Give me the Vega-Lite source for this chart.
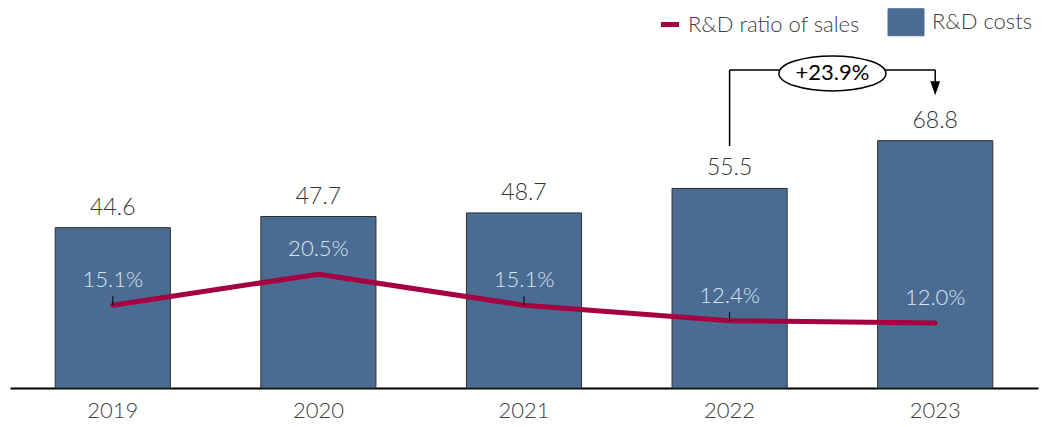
{
  "$schema": "https://vega.github.io/schema/vega-lite/v6.json",
  "width": 1028,
  "height": 380,
  "padding": {"left": 10, "top": 8, "right": 5, "bottom": 5},
  "background": "white",
  "config": {"view": {"stroke": null}, "font": "Lato"},
  "data": {"values": [
    {"year": "2019", "costs": 44.6, "ratio": 0.151},
    {"year": "2020", "costs": 47.7, "ratio": 0.205},
    {"year": "2021", "costs": 48.7, "ratio": 0.151},
    {"year": "2022", "costs": 55.5, "ratio": 0.124},
    {"year": "2023", "costs": 68.8, "ratio": 0.120}
  ]},
  "layer": [
    {
      "layer": [
        {
          "mark": {"type": "bar", "stroke": "#2e2e2e", "strokeWidth": 1},
          "encoding": {
            "x": {"field": "year", "type": "nominal", "scale": {"paddingInner": 0.44, "paddingOuter": 0.22},
              "axis": {"title": null, "ticks": false, "tickSize": 0, "domainColor": "#000000", "domainWidth": 2, "labelFont": "Lato", "labelFontSize": 22, "labelFontWeight": 300, "labelColor": "#404040", "labelAngle": 0, "labelBaseline": "middle", "labelPadding": 22, "grid": false}},
            "y": {"field": "costs", "type": "quantitative", "scale": {"domain": [0, 105.7], "nice": false}, "axis": null},
            "color": {"datum": "R&D costs", "type": "nominal",
              "scale": {"domain": ["R&D ratio of sales", "R&D costs"], "range": ["#a50040", "#4a6c93"]},
              "legend": {"title": null, "orient": "none", "legendX": 649, "legendY": 3, "direction": "horizontal",
                "labelFont": "Lato", "labelFontSize": 22, "labelFontWeight": 300, "labelColor": "#404040", "labelLimit": 400, "columnPadding": 26, "labelOffset": 7, "symbolSize": 729,
                "encode": {
                  "symbols": {"update": {
                    "shape": {"signal": "datum.value === 'R&D costs' ? 'M -1.333 -1 H 1.333 V 1 H -1.333 Z' : 'stroke'"},
                    "size": {"signal": "datum.value === 'R&D costs' ? 729 : 324"},
                    "fill": {"signal": "datum.value === 'R&D costs' ? '#4a6c93' : 'transparent'"},
                    "stroke": {"signal": "datum.value === 'R&D costs' ? '#2e2e2e' : '#a50040'"},
                    "strokeWidth": {"signal": "datum.value === 'R&D costs' ? 1 : 5"},
                    "opacity": {"value": 1}
                  }},
                  "labels": {"update": {"dx": {"signal": "datum.value === 'R&D costs' ? 8 : 0"}}}
                }}}
          }
        },
        {
          "mark": {"type": "text", "baseline": "middle", "dy": -20, "fontSize": 23, "fontWeight": 300, "color": "#333333", "font": "Lato"},
          "encoding": {
            "x": {"field": "year", "type": "nominal"},
            "y": {"field": "costs", "type": "quantitative"},
            "text": {"field": "costs", "type": "quantitative", "format": ".1f"}
          }
        },
        {
          "transform": [{"filter": {"field": "year", "equal": "2022"}}],
          "mark": {"type": "rule", "color": "#000000", "strokeWidth": 1.5},
          "encoding": {
            "x": {"datum": "2022", "type": "nominal"},
            "y": {"datum": 67.3, "type": "quantitative"},
            "y2": {"datum": 88.45}
          }
        },
        {
          "transform": [{"filter": {"field": "year", "equal": "2022"}}],
          "mark": {"type": "rule", "color": "#000000", "strokeWidth": 1.5},
          "encoding": {
            "x": {"datum": "2022", "type": "nominal"},
            "x2": {"datum": "2023"},
            "y": {"datum": 88.45, "type": "quantitative"}
          }
        },
        {
          "transform": [{"filter": {"field": "year", "equal": "2022"}}],
          "mark": {"type": "rule", "color": "#000000", "strokeWidth": 1.5},
          "encoding": {
            "x": {"datum": "2023", "type": "nominal"},
            "y": {"datum": 88.45, "type": "quantitative"},
            "y2": {"datum": 84.6}
          }
        },
        {
          "transform": [{"filter": {"field": "year", "equal": "2022"}}],
          "mark": {"type": "point", "shape": "M -0.7 -1 L 0.7 -1 L 0 1 Z", "filled": true, "color": "#000000", "size": 196, "opacity": 1},
          "encoding": {
            "x": {"datum": "2023", "type": "nominal"},
            "y": {"datum": 83.4, "type": "quantitative"}
          }
        },
        {
          "transform": [{"filter": {"field": "year", "equal": "2022"}}],
          "mark": {"type": "point", "shape": "M -1 0 A 1 0.327 0 1 0 1 0 A 1 0.327 0 1 0 -1 0 Z", "filled": true, "fill": "#ffffff", "stroke": "#000000", "strokeWidth": 1.5, "size": 11449, "opacity": 1},
          "encoding": {
            "x": {"datum": "2022", "type": "nominal", "bandPosition": 1.393},
            "y": {"datum": 87.5, "type": "quantitative"}
          }
        },
        {
          "transform": [{"filter": {"field": "year", "equal": "2022"}}],
          "mark": {"type": "text", "baseline": "middle", "align": "center", "fontSize": 22, "color": "#000000", "font": "Lato", "text": "+23.9%"},
          "encoding": {
            "x": {"datum": "2022", "type": "nominal", "bandPosition": 1.393},
            "y": {"datum": 87.5, "type": "quantitative"}
          }
        }
      ]
    },
    {
      "layer": [
        {
          "mark": {"type": "line", "strokeWidth": 5, "strokeCap": "round", "strokeJoin": "round"},
          "encoding": {
            "x": {"field": "year", "type": "nominal"},
            "y": {"field": "ratio", "type": "quantitative", "scale": {"domain": [0.007, 0.668], "nice": false, "zero": false}, "axis": null},
            "color": {"datum": "R&D ratio of sales", "type": "nominal",
              "legend": {"title": null, "orient": "none", "legendX": 649, "legendY": 3, "direction": "horizontal",
                "labelFont": "Lato", "labelFontSize": 22, "labelFontWeight": 300, "labelColor": "#404040", "labelLimit": 400, "columnPadding": 26, "labelOffset": 7, "symbolSize": 729,
                "encode": {
                  "symbols": {"update": {
                    "shape": {"signal": "datum.value === 'R&D costs' ? 'M -1.333 -1 H 1.333 V 1 H -1.333 Z' : 'stroke'"},
                    "size": {"signal": "datum.value === 'R&D costs' ? 729 : 324"},
                    "fill": {"signal": "datum.value === 'R&D costs' ? '#4a6c93' : 'transparent'"},
                    "stroke": {"signal": "datum.value === 'R&D costs' ? '#2e2e2e' : '#a50040'"},
                    "strokeWidth": {"signal": "datum.value === 'R&D costs' ? 1 : 5"},
                    "opacity": {"value": 1}
                  }},
                  "labels": {"update": {"dx": {"signal": "datum.value === 'R&D costs' ? 8 : 0"}}}
                }}}
          }
        },
        {
          "transform": [{"filter": {"field": "year", "oneOf": ["2019", "2021", "2022"]}}],
          "mark": {"type": "rule", "color": "#000000", "strokeWidth": 1, "y2Offset": -9},
          "encoding": {
            "x": {"field": "year", "type": "nominal"},
            "y": {"field": "ratio", "type": "quantitative"},
            "y2": {"field": "ratio"}
          }
        },
        {
          "mark": {"type": "text", "baseline": "middle", "dy": -25, "fontSize": 22, "fontWeight": 300, "color": "#dce4ee", "font": "Lato"},
          "encoding": {
            "x": {"field": "year", "type": "nominal"},
            "y": {"field": "ratio", "type": "quantitative"},
            "text": {"field": "ratio", "type": "quantitative", "format": ".1%"}
          }
        }
      ]
    }
  ],
  "resolve": {"scale": {"y": "independent"}}
}
